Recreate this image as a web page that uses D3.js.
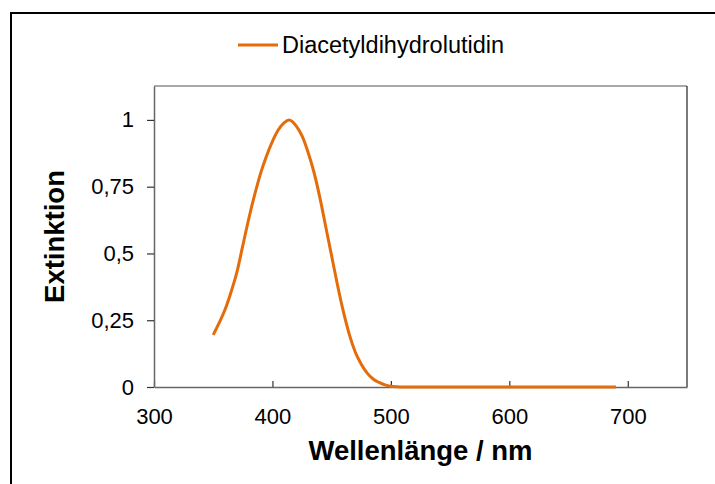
<!DOCTYPE html>
<html>
<head>
<meta charset="utf-8">
<script src="https://cdn.jsdelivr.net/npm/d3@7"></script>
<style>
  html, body { margin: 0; padding: 0; background: #fff; }
  svg { display: block; }
  text { font-family: "Liberation Sans", Arial, sans-serif; fill: #000; }
</style>
</head>
<body>
<script>
const seriesName = "Diacetyldihydrolutidin";
const wavelengths = [350,355,360,365,370,375,380,385,390,395,400,405,410,414,420,425,430,435,440,445,450,455,460,465,470,475,480,485,490,495,500,505,510,550,600,650,690];
const extinction = [0.195,0.24,0.29,0.355,0.43,0.53,0.63,0.72,0.80,0.865,0.92,0.963,0.99,1.0,0.978,0.94,0.88,0.805,0.71,0.60,0.49,0.38,0.28,0.195,0.13,0.085,0.052,0.03,0.017,0.008,0.003,0.001,0,0,0,0,0];
const xTicks = [300,400,500,600,700];
const yTicks = [0,0.25,0.5,0.75,1];
const yTickLabels = ["0","0,25","0,5","0,75","1"];
const xTitle = "Wellenlänge / nm";
const yTitle = "Extinktion";

const W = 715, H = 484;
const plot = {left: 154, top: 86, right: 687, bottom: 387};
const color = "#E46C0A";

const svg = d3.select("body").append("svg").attr("width", W).attr("height", H);

// outer chart border (left and top visible)
svg.append("line").attr("x1", 11).attr("x2", 11).attr("y1", 12).attr("y2", H).attr("stroke", "#000").attr("stroke-width", 2);
svg.append("line").attr("x1", 10).attr("x2", W).attr("y1", 13).attr("y2", 13).attr("stroke", "#000").attr("stroke-width", 2);

const x = d3.scaleLinear().domain([300, 750]).range([plot.left, plot.right]);
const y = d3.scaleLinear().domain([0, 1.127]).range([plot.bottom, plot.top]);

// plot frame
svg.append("line").attr("x1", plot.left).attr("x2", plot.right).attr("y1", plot.top).attr("y2", plot.top).attr("stroke", "#8c8c8c").attr("stroke-width", 1.3);
svg.append("line").attr("x1", plot.right).attr("x2", plot.right).attr("y1", plot.top).attr("y2", plot.bottom).attr("stroke", "#333").attr("stroke-width", 1.3);

// x axis (ticks inward)
const xAxis = d3.axisBottom(x).tickValues(xTicks).tickSizeInner(-6).tickSizeOuter(0).tickPadding(0).tickFormat(d3.format("d"));
const gx = svg.append("g").attr("transform", `translate(0,${plot.bottom})`).call(xAxis);
gx.select(".domain").attr("stroke", "#666").attr("stroke-width", 1.5);
gx.selectAll(".tick line").attr("stroke", "#333").attr("stroke-width", 1.2);
gx.selectAll(".tick text").attr("font-size", 22).attr("dy", null).attr("y", 37)
  .style("font-family", "'Liberation Sans', Arial, sans-serif").attr("fill", "#000");

// y axis (ticks outward)
const yAxis = d3.axisLeft(y).tickValues(yTicks).tickSize(7).tickSizeOuter(0).tickPadding(13)
  .tickFormat((d, i) => yTickLabels[i]);
const gy = svg.append("g").attr("transform", `translate(${plot.left},0)`).call(yAxis);
gy.select(".domain").attr("stroke", "#666").attr("stroke-width", 1.5);
gy.selectAll(".tick line").attr("stroke", "#333").attr("stroke-width", 1.2);
gy.selectAll(".tick text").attr("font-size", 22)
  .style("font-family", "'Liberation Sans', Arial, sans-serif").attr("fill", "#000");

// data line
const data = wavelengths.map((w, i) => ({w, v: extinction[i]}));
svg.append("path").datum(data)
  .attr("fill", "none").attr("stroke", color).attr("stroke-width", 3)
  .attr("stroke-linejoin", "round").attr("stroke-linecap", "butt")
  .attr("d", d3.line().x(d => x(d.w)).y(d => y(d.v)).curve(d3.curveMonotoneX));

// axis titles
svg.append("text").attr("x", (plot.left + plot.right) / 2).attr("y", 460)
  .attr("text-anchor", "middle").attr("font-size", 27.5).attr("font-weight", "bold").text(xTitle);
svg.append("text").attr("transform", `translate(64,${(plot.top + plot.bottom) / 2}) rotate(-90)`)
  .attr("text-anchor", "middle").attr("font-size", 27.5).attr("font-weight", "bold").text(yTitle);

// legend
svg.append("line").attr("x1", 238).attr("x2", 278).attr("y1", 45).attr("y2", 45)
  .attr("stroke", color).attr("stroke-width", 3);
svg.append("text").attr("x", 282).attr("y", 45).attr("dy", "0.35em")
  .attr("font-size", 23.5).text(seriesName);
</script>
</body>
</html>
